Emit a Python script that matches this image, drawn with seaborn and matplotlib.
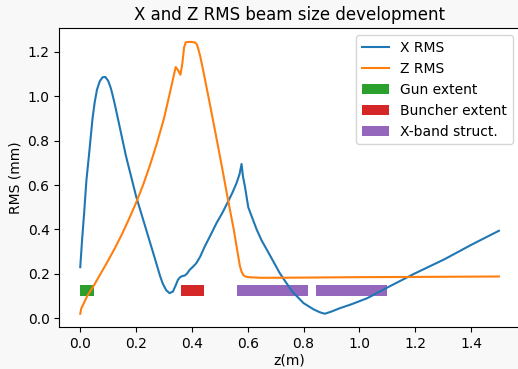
import matplotlib
matplotlib.use("Agg")
import matplotlib.pyplot as plt
import seaborn as sns
import pandas as pd

# Beam size along the line (z in m, RMS in mm)
x_rms_z = [0.0, 0.007, 0.014, 0.022, 0.032, 0.044, 0.052, 0.06, 0.07, 0.08,
           0.09, 0.1, 0.11, 0.12, 0.128, 0.146, 0.164, 0.182, 0.2, 0.218,
           0.236, 0.254, 0.272, 0.286, 0.296, 0.308, 0.32, 0.332, 0.342, 0.35,
           0.358, 0.366, 0.374, 0.382, 0.392, 0.404, 0.416, 0.43, 0.446, 0.466,
           0.488, 0.508, 0.527, 0.545, 0.56, 0.571, 0.578, 0.583, 0.59, 0.602,
           0.614, 0.632, 0.65, 0.668, 0.69, 0.714, 0.728, 0.76, 0.8, 0.836,
           0.858, 0.876, 0.9, 0.93, 0.97, 1.028, 1.1, 1.196, 1.304, 1.4, 1.5]
x_rms_mm = [0.23, 0.36, 0.474, 0.62, 0.744, 0.9, 0.975, 1.03, 1.068, 1.086,
            1.087, 1.07, 1.035, 0.985, 0.94, 0.835, 0.73, 0.64, 0.55, 0.475,
            0.4, 0.325, 0.25, 0.19, 0.155, 0.126, 0.113, 0.12, 0.148, 0.173,
            0.185, 0.19, 0.192, 0.2, 0.218, 0.232, 0.248, 0.278, 0.323, 0.372,
            0.428, 0.472, 0.519, 0.565, 0.609, 0.65, 0.695, 0.64, 0.594, 0.5,
            0.46, 0.4, 0.35, 0.31, 0.26, 0.205, 0.178, 0.12, 0.068, 0.04,
            0.027, 0.02, 0.03, 0.045, 0.062, 0.09, 0.138, 0.2, 0.265, 0.33, 0.394]

z_rms_z = [0.0, 0.004, 0.01, 0.025, 0.05, 0.075, 0.1, 0.125, 0.15, 0.175,
           0.2, 0.225, 0.25, 0.275, 0.3, 0.322, 0.342, 0.35, 0.359, 0.366,
           0.372, 0.378, 0.386, 0.398, 0.41, 0.417, 0.422, 0.43, 0.44, 0.464,
           0.488, 0.508, 0.527, 0.55, 0.566, 0.572, 0.578, 0.584, 0.592, 0.602,
           0.65, 0.8, 1.0, 1.2, 1.5]
z_rms_mm = [0.02, 0.045, 0.06, 0.1, 0.15, 0.205, 0.26, 0.318, 0.38, 0.448,
            0.52, 0.6, 0.69, 0.79, 0.9, 1.02, 1.132, 1.118, 1.097, 1.15,
            1.22, 1.243, 1.245, 1.245, 1.243, 1.236, 1.218, 1.18, 1.12, 0.968,
            0.812, 0.68, 0.55, 0.4, 0.28, 0.235, 0.21, 0.195, 0.188, 0.185,
            0.182, 0.183, 0.185, 0.186, 0.188]

# Element extents along z (start, length) and the band they are drawn in
gun_extent = [(0.0, 0.05)]
buncher_extent = [(0.36, 0.085)]
xband_extent = [(0.56, 0.255), (0.845, 0.255)]
extent_band = (0.1, 0.05)

df_x = pd.DataFrame({"z": x_rms_z, "rms": x_rms_mm})
df_z = pd.DataFrame({"z": z_rms_z, "rms": z_rms_mm})

fig = plt.figure(figsize=(5.18, 3.69), dpi=100, facecolor="#f8f8f8")
ax = fig.add_axes([0.1145, 0.113, 0.889, 0.810])

sns.lineplot(data=df_x, x="z", y="rms", ax=ax, color="tab:blue",
             linewidth=1.5, label="X RMS")
sns.lineplot(data=df_z, x="z", y="rms", ax=ax, color="tab:orange",
             linewidth=1.5, label="Z RMS")

ax.broken_barh(gun_extent, extent_band, facecolors="tab:green",
               label="Gun extent")
ax.broken_barh(buncher_extent, extent_band, facecolors="tab:red",
               label="Buncher extent")
ax.broken_barh(xband_extent, extent_band, facecolors="tab:purple",
               label="X-band struct.")

ax.set_xlim(-0.075, 1.575)
ax.set_ylim(-0.041, 1.306)
ax.set_xticks([0.0, 0.2, 0.4, 0.6, 0.8, 1.0, 1.2, 1.4])
ax.set_yticks([0.0, 0.2, 0.4, 0.6, 0.8, 1.0, 1.2])
ax.set_xlabel("z(m)", labelpad=2)
ax.set_ylabel("RMS (mm)")
ax.set_title("X and Z RMS beam size development", fontsize=12)
ax.legend(loc="upper right")

fig.savefig("out.png", dpi=100, facecolor=fig.get_facecolor())
